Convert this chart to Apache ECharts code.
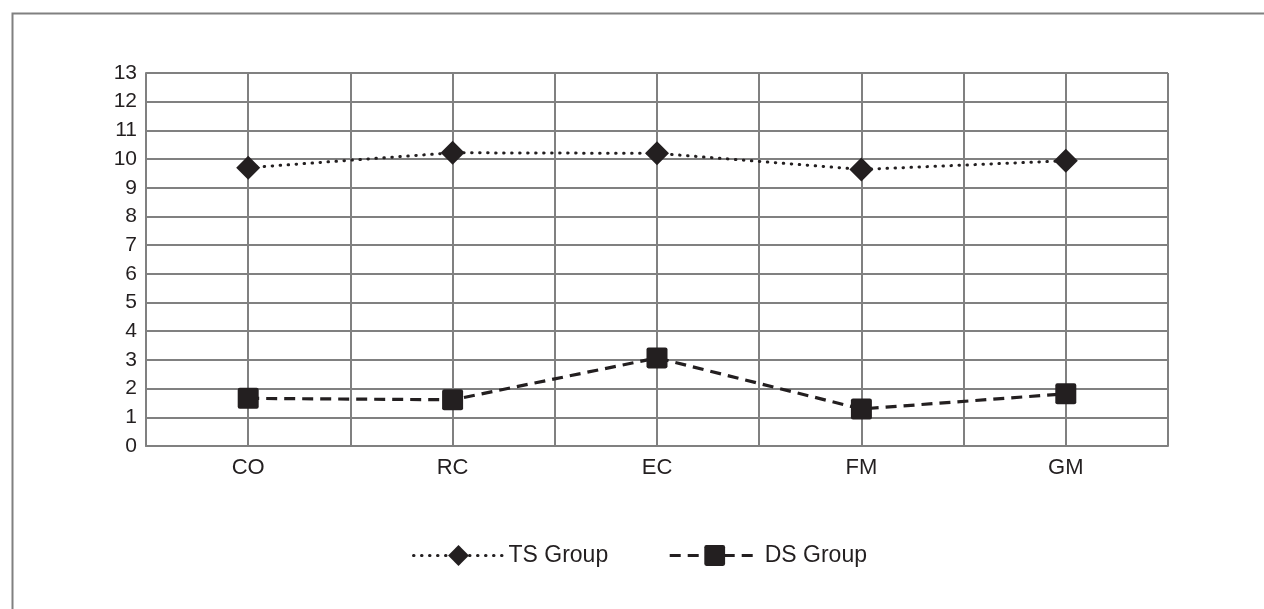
<!DOCTYPE html>
<html>
<head>
<meta charset="utf-8">
<script src="https://cdn.jsdelivr.net/npm/echarts@6/dist/echarts.min.js"></script>
<style>html,body{margin:0;padding:0;background:#fff;}#c{width:1264px;height:609px;}</style>
</head>
<body>
<div id="c"></div>
<script>
var categories = ['CO', 'RC', 'EC', 'FM', 'GM'];
var tsGroup = [9.70, 10.22, 10.20, 9.64, 9.94];
var dsGroup = [1.66, 1.61, 3.07, 1.29, 1.82];
var seriesNames = ['TS Group', 'DS Group'];

var ink = '#231f20';
var gridColor = '#808080';
var font = '"Liberation Sans", Arial, sans-serif';
var squarePath = 'path://M2,0 L18,0 Q20,0 20,2 L20,18 Q20,20 18,20 L2,20 Q0,20 0,18 L0,2 Q0,0 2,0 Z';

var chart = echarts.init(document.getElementById('c'), null, {renderer: 'canvas'});
chart.setOption({
  animation: false,
  backgroundColor: '#fff',
  graphic: [{
    type: 'rect', left: 10, top: 11, z: -10,
    shape: {x: 0, y: 0, width: 1400, height: 800},
    style: {fill: 'none', stroke: gridColor, lineWidth: 2}
  }],
  grid: {left: 146, top: 73, right: 96, bottom: 163, containLabel: false},
  legend: {
    data: seriesNames,
    top: 539,
    left: 407,
    itemWidth: 90,
    itemHeight: 26,
    itemGap: 60,
    lineStyle: {width: 3},
    textStyle: {fontFamily: font, fontSize: 23, color: ink}
  },
  xAxis: [{
    type: 'category',
    data: categories,
    boundaryGap: true,
    axisLine: {show: true, lineStyle: {color: gridColor, width: 2}},
    axisTick: {show: false},
    splitLine: {show: false},
    axisLabel: {fontFamily: font, fontSize: 22, color: ink, margin: 11}
  }, {
    type: 'value',
    min: 0, max: 10, interval: 1,
    position: 'bottom',
    axisLine: {show: false},
    axisTick: {show: false},
    axisLabel: {show: false},
    splitLine: {show: true, lineStyle: {color: gridColor, width: 2}}
  }],
  yAxis: {
    type: 'value',
    min: 0, max: 13, interval: 1,
    axisLine: {show: true, lineStyle: {color: gridColor, width: 2}},
    axisTick: {show: false},
    splitLine: {show: true, lineStyle: {color: gridColor, width: 2}},
    axisLabel: {fontFamily: font, fontSize: 21, color: ink, margin: 9}
  },
  series: [{
    name: seriesNames[0],
    type: 'line',
    xAxisIndex: 0,
    data: tsGroup,
    symbol: 'diamond',
    symbolSize: [24, 24],
    itemStyle: {color: ink},
    lineStyle: {color: ink, width: 3, type: [0.5, 7.5], cap: 'round'},
    z: 5
  }, {
    name: seriesNames[1],
    type: 'line',
    xAxisIndex: 0,
    data: dsGroup,
    symbol: squarePath,
    symbolSize: [21, 21],
    itemStyle: {color: ink},
    lineStyle: {color: ink, width: 3.2, type: [11, 7]},
    z: 5
  }]
});
</script>
</body>
</html>
